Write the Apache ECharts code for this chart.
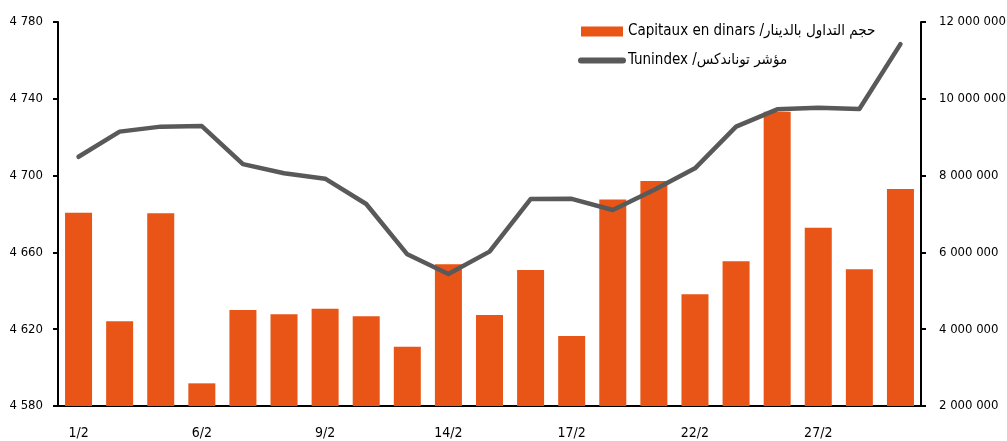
<!DOCTYPE html>
<html>
<head>
<meta charset="utf-8">
<script src="https://cdn.jsdelivr.net/npm/echarts@6/dist/echarts.min.js"></script>
<style>
  html, body { margin: 0; padding: 0; background: #fff; }
  #chart { width: 1007px; height: 441px; }
</style>
</head>
<body>
<div id="chart"></div>
<script>
// 数据 - février 2012
var days = ['1/2', '2/2', '3/2', '6/2', '7/2', '8/2', '9/2', '10/2', '13/2', '14/2', '15/2',
            '16/2', '17/2', '20/2', '21/2', '22/2', '23/2', '24/2', '27/2', '28/2', '29/2']
var capitaux = [7030000, 4210000, 7020000, 2590000, 4500000, 4390000, 4530000, 4340000, 3540000, 5690000, 4370000,
                5540000, 3820000, 7380000, 7860000, 4910000, 5770000, 9660000, 6640000, 5560000, 7650000]
var tunindex = [4709.8, 4722.9, 4725.5, 4725.8, 4706.0, 4701.2, 4698.4, 4685.2, 4659.0, 4648.7, 4660.4,
                4687.8, 4687.9, 4682.1, 4692.5, 4703.8, 4725.5, 4734.5, 4735.4, 4734.7, 4768.5]

var orange = '#E85516'
var gris = '#595959'
var font = '"Liberation Sans Narrow", "DejaVu Sans Condensed", "DejaVu Sans", sans-serif'

function spaced(v) {
    return String(Math.round(v)).replace(/\B(?=(\d{3})+(?!\d))/g, ' ')
}

var chart = echarts.init(document.getElementById('chart'))
var option = {
    animation: false,
    textStyle: { fontFamily: font },
    grid: { left: 58, right: 86, top: 22, bottom: 35, containLabel: false, outerBoundsMode: 'none' },
    legend: {
        orient: 'vertical',
        left: 573,
        top: 19,
        itemWidth: 42,
        itemHeight: 10,
        itemGap: 14,
        textStyle: { fontFamily: font, fontSize: 15, color: '#000' },
        data: [
            { name: 'Capitaux en dinars /حجم التداول بالدينار', icon: 'rect' },
            { name: 'Tunindex /مؤشر توناندكس', itemStyle: { opacity: 0 }, lineStyle: { width: 6, cap: 'round' } }
        ]
    },
    xAxis: {
        type: 'category',
        data: days,
        boundaryGap: true,
        axisLine: { lineStyle: { color: '#000', width: 2 } },
        axisTick: { interval: 0, length: 5, lineStyle: { color: '#000', width: 2 } },
        axisLabel: { interval: 2, color: '#000', fontSize: 14, margin: 20, fontFamily: font }
    },
    yAxis: [{
        type: 'value',
        position: 'left',
        min: 4580,
        max: 4780,
        interval: 40,
        splitLine: { show: false },
        axisLine: { show: true, lineStyle: { color: '#000', width: 2 } },
        axisTick: { show: true, length: 5, lineStyle: { color: '#000', width: 2 } },
        axisLabel: { color: '#000', fontSize: 13, margin: 15, fontFamily: font, formatter: spaced }
    }, {
        type: 'value',
        position: 'right',
        min: 2000000,
        max: 12000000,
        interval: 2000000,
        splitLine: { show: false },
        axisLine: { show: true, lineStyle: { color: '#000', width: 2 } },
        axisTick: { show: true, length: 5, lineStyle: { color: '#000', width: 2 } },
        axisLabel: { color: '#000', fontSize: 13, margin: 18, fontFamily: font, formatter: spaced }
    }],
    series: [{
        name: 'Capitaux en dinars /حجم التداول بالدينار',
        type: 'bar',
        yAxisIndex: 1,
        barWidth: 27,
        itemStyle: { color: orange },
        data: capitaux
    }, {
        name: 'Tunindex /مؤشر توناندكس',
        type: 'line',
        yAxisIndex: 0,
        symbol: 'none',
        lineStyle: { color: gris, width: 4.5, cap: 'round', join: 'round' },
        itemStyle: { color: gris },
        data: tunindex
    }]
}
chart.setOption(option)
</script>
</body>
</html>
